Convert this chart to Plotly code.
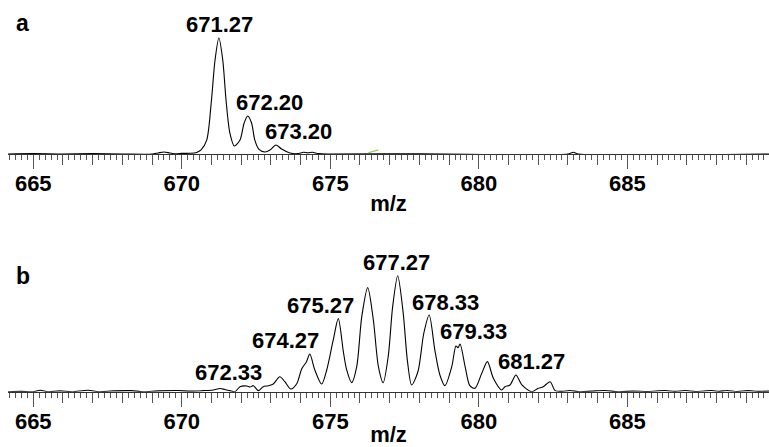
import numpy as np
import plotly.graph_objects as go

# ---- data (m/z, relative intensity %) ----
mz_a = [664.15, 665.0, 666.0, 667.0, 668.0, 669.0, 669.2, 669.4, 669.6, 669.8, 670.0, 670.3, 670.5,
        670.65, 670.84, 671.0, 671.12, 671.25, 671.38, 671.49, 671.62, 671.77, 671.96, 672.1,
        672.22, 672.35, 672.46, 672.6, 672.8, 672.97, 673.17, 673.36, 673.64, 673.9, 674.1,
        674.25, 674.4, 674.6, 675.0, 678.0, 683.0, 683.18, 683.35, 689.8]
int_a = [0, 0.3, 0, 0.3, 0, 0, 0.9, 1.7, 0.9, 0.2, 0.5, 0.6, 1.3,
         3.5, 12, 46.6, 81, 100, 81, 46.6, 18, 6.9, 12, 26.7,
         32.8, 26.7, 12, 4, 1.7, 3.4, 7.8, 4.3, 0.9, 0.3, 1.5,
         1.0, 1.5, 0.3, 0, 0.2, 0, 1.5, 0, 0]

mz_b = [664.15, 664.6, 665.0, 665.23, 665.5, 665.9, 666.3, 666.85, 667.2, 667.7, 668.3, 668.7,
        669.2, 669.87, 670.3, 670.7, 671.06, 671.29, 671.45, 671.62, 671.79, 671.96, 672.19,
        672.3, 672.41, 672.58, 672.74, 672.91, 673.08, 673.3, 673.47, 673.67, 673.87, 674.04,
        674.2, 674.31, 674.48, 674.71, 674.88, 675.1, 675.27, 675.44, 675.55, 675.72, 675.89,
        676.06, 676.26, 676.45, 676.62, 676.78, 676.95, 677.1, 677.27, 677.45, 677.6, 677.74,
        677.95, 678.15, 678.33, 678.52, 678.69, 678.86, 679.09, 679.23, 679.3, 679.37, 679.54,
        679.7, 679.87, 680.1, 680.29, 680.49, 680.77, 680.88, 681.05, 681.25, 681.45, 681.78,
        682.0, 682.17, 682.4, 682.57, 682.8, 683.07, 683.4, 683.8, 684.25, 684.7, 685.2,
        685.7, 686.27, 686.6, 686.94, 687.3, 687.84, 688.1, 688.35, 688.7, 689.06, 689.4, 689.8]
int_b = [0, 0.3, 0, 1.3, 0, 0.7, 0, 1.3, 0, 0.7, 0.9, 0,
         0.7, 1.0, 0.5, 0.9, 1.5, 2.8, 1.9, 0.9, 0, 4.3, 4.9,
         4.0, 5.2, 0.9, 4.3, 5.2, 6.6, 12.9, 8.6, 2.3, 6.9, 19.8,
         25.9, 32.5, 18.7, 6.6, 18.7, 44.6, 63, 34.5, 19, 7.8, 21.6,
         64.7, 89.7, 61.8, 21.6, 7.8, 30.2, 73.3, 100, 69, 25.9, 5.8,
         17.2, 50.6, 66.1, 35.9, 14.4, 5.2, 21.6, 39.4, 37.9, 41.1, 21.6,
         5.2, 2.9, 15.9, 25.9, 11.6, 1.5, 4.3, 5.8, 14.4, 5.8, 0,
         2.9, 4.3, 8.6, 0.9, 0.3, 1.0, 0, 0.5, 1.0, 0, 0.5,
         0.2, 1.0, 0.3, 1.0, 0.2, 1.0, 0.3, 1.1, 0.2, 0.9, 0.3, 0.5]

labels_a = ["671.27", "672.20", "673.20"]
labels_b = ["672.33", "674.27", "675.27", "677.27", "678.33", "679.33", "681.27"]

green_mz = [676.28, 676.62]
green_int = [1.1, 3.5]

# ---- layout constants ----
XR = [664.15, 689.77]
YR = [0, 115.5]
FONT = "Liberation Sans, Arial, Helvetica, sans-serif"
label_dx = {"671.27": 0, "672.20": 22, "673.20": 22,
            "672.33": -22, "674.27": -23, "675.27": -18, "677.27": -1,
            "678.33": 16, "679.33": 15, "681.27": 15}

fig = go.Figure()
fig.add_trace(go.Scatter(x=mz_a, y=int_a, mode="lines", xaxis="x", yaxis="y",
                         line=dict(color="black", width=1.1, shape="spline", smoothing=0.8),
                         hoverinfo="skip", showlegend=False))
fig.add_trace(go.Scatter(x=green_mz, y=green_int, mode="lines", xaxis="x", yaxis="y",
                         line=dict(color="#86d24f", width=1.2), hoverinfo="skip", showlegend=False))
fig.add_trace(go.Scatter(x=mz_b, y=int_b, mode="lines", xaxis="x2", yaxis="y2",
                         line=dict(color="black", width=1.1, shape="spline", smoothing=0.8),
                         hoverinfo="skip", showlegend=False))
# invisible traces so the overlay (1-unit tick) axes are drawn
fig.add_trace(go.Scatter(x=XR, y=[0, 0], mode="lines", xaxis="x3", yaxis="y",
                         line=dict(width=0), opacity=0, hoverinfo="skip", showlegend=False))
fig.add_trace(go.Scatter(x=XR, y=[0, 0], mode="lines", xaxis="x4", yaxis="y2",
                         line=dict(width=0), opacity=0, hoverinfo="skip", showlegend=False))

tickfont = dict(family=FONT, size=22, color="black", weight="bold")


def main_x(anchor, title_standoff):
    return dict(anchor=anchor, range=XR, domain=[0, 1], tickmode="linear", tick0=665, dtick=5,
                ticks="outside", ticklen=14, tickwidth=1, tickcolor="#555", automargin=False,
                showline=True, linecolor="#333", linewidth=1, showgrid=False, zeroline=False,
                tickfont=tickfont, ticklabelstandoff=-4,
                minor=dict(tickmode="linear", tick0=665, dtick=0.2, ticks="outside", ticklen=5,
                           tickwidth=1, tickcolor="#555", showgrid=False),
                title=dict(text="m/z", font=dict(family=FONT, size=22, color="black", weight="bold"),
                           standoff=title_standoff))


def unit_x(anchor, over):
    return dict(anchor=anchor, overlaying=over, range=XR, domain=[0, 1], tickmode="linear",
                tick0=665, dtick=1, ticks="outside", ticklen=10, tickwidth=1, tickcolor="#555",
                showticklabels=False, showgrid=False, zeroline=False, showline=False,
                automargin=False)


ydef = dict(range=YR, visible=False, showgrid=False, zeroline=False, automargin=False)

fig.update_layout(
    width=769, height=447, margin=dict(l=8, r=0, t=0, b=0, autoexpand=False),
    paper_bgcolor="white", plot_bgcolor="white",
    xaxis=main_x("y", 0), xaxis2=main_x("y2", 4),
    xaxis3=unit_x("y", "x"), xaxis4=unit_x("y2", "x2"),
    yaxis=dict(domain=[0.65548, 0.95526], **ydef),
    yaxis2=dict(domain=[0.12371, 0.42349], **ydef),
)

ann = []


def peak_height(mzs, ints, c):
    m = np.array(mzs)
    v = np.array(ints)
    sel = np.abs(m - c) <= 0.15
    return float(v[sel].max())


for lab in labels_a:
    ann.append(dict(x=float(lab), y=peak_height(mz_a, int_a, float(lab)), xref="x", yref="y",
                    text=lab, showarrow=False, xanchor="center", yanchor="middle",
                    xshift=label_dx[lab], yshift=13,
                    font=dict(family=FONT, size=22, color="black", weight="bold")))
for lab in labels_b:
    ann.append(dict(x=float(lab), y=peak_height(mz_b, int_b, float(lab)), xref="x2", yref="y2",
                    text=lab, showarrow=False, xanchor="center", yanchor="middle",
                    xshift=label_dx[lab], yshift=13,
                    font=dict(family=FONT, size=22, color="black", weight="bold")))
for txt, xp, yp in [("a", 0.019, 0.948), ("b", 0.0201, 0.383)]:
    ann.append(dict(x=xp, y=yp, xref="paper", yref="paper", text=txt, showarrow=False,
                    xanchor="center", yanchor="middle",
                    font=dict(family=FONT, size=23, color="black", weight="bold")))
fig.update_layout(annotations=ann)

fig.write_html("out.html", config={"displayModeBar": False},
               post_script="document.body.style.margin='0';")
